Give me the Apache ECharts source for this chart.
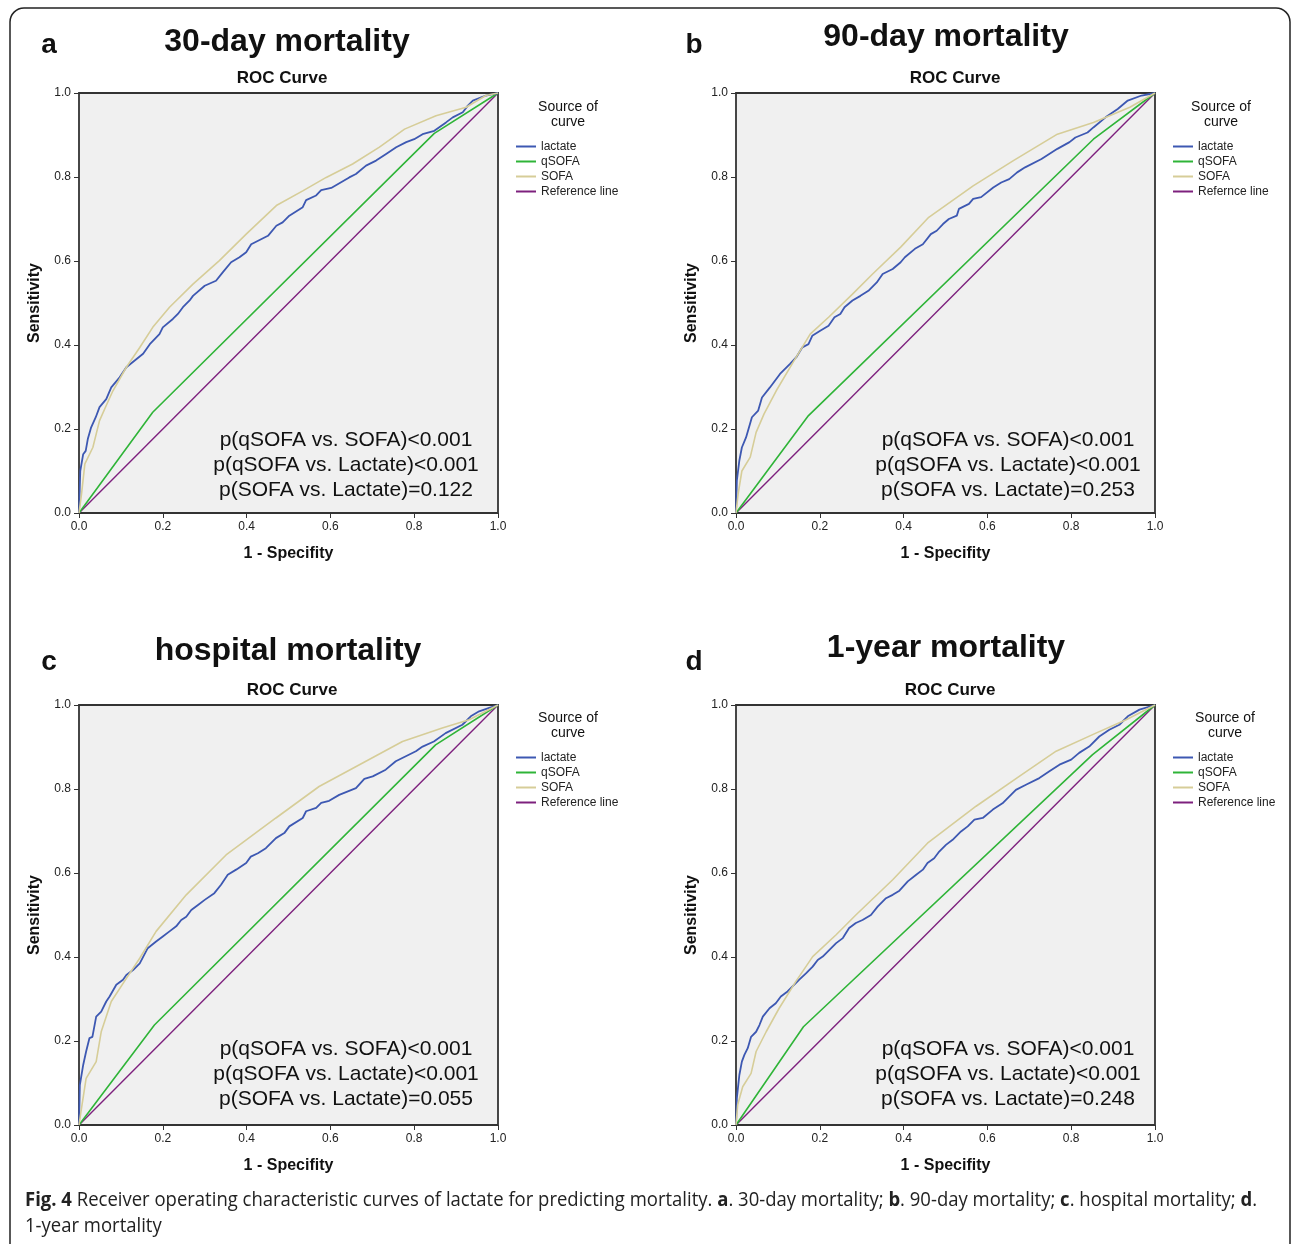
<!DOCTYPE html>
<html>
<head>
<meta charset="utf-8">
<script src="https://cdn.jsdelivr.net/npm/echarts@6/dist/echarts.min.js"></script>
<style>
html,body{margin:0;padding:0;background:#fff;}
#chart{width:1292px;height:1244px;}
</style>
</head>
<body>
<div id="chart"></div>
<script>
// ---------- data ----------
const panelTitles = ['30-day mortality', '90-day mortality', 'hospital mortality', '1-year mortality'];
const panelLetters = ['a', 'b', 'c', 'd'];
const tickValues = [0, 0.2, 0.4, 0.6, 0.8, 1.0];
const seriesNamesA = ['lactate', 'qSOFA', 'SOFA', 'Reference line'];
const seriesNamesB = ['lactate', 'qSOFA', 'SOFA', 'Refernce line'];
const pvalueTexts = [
  ['p(qSOFA vs. SOFA)<0.001', 'p(qSOFA vs. Lactate)<0.001', 'p(SOFA vs. Lactate)=0.122'],
  ['p(qSOFA vs. SOFA)<0.001', 'p(qSOFA vs. Lactate)<0.001', 'p(SOFA vs. Lactate)=0.253'],
  ['p(qSOFA vs. SOFA)<0.001', 'p(qSOFA vs. Lactate)<0.001', 'p(SOFA vs. Lactate)=0.055'],
  ['p(qSOFA vs. SOFA)<0.001', 'p(qSOFA vs. Lactate)<0.001', 'p(SOFA vs. Lactate)=0.248']
];

const lactate30 = [[0,0],[0.003,0.10],[0.01,0.14],[0.016,0.148],[0.021,0.176],[0.029,0.204],[0.04,0.228],[0.049,0.252],[0.065,0.271],[0.077,0.299],[0.097,0.323],[0.113,0.347],[0.133,0.363],[0.153,0.379],[0.169,0.402],[0.192,0.426],[0.2,0.442],[0.224,0.462],[0.236,0.474],[0.248,0.49],[0.264,0.506],[0.272,0.517],[0.3,0.541],[0.327,0.553],[0.343,0.573],[0.363,0.597],[0.383,0.609],[0.399,0.621],[0.411,0.64],[0.451,0.66],[0.471,0.684],[0.486,0.692],[0.502,0.708],[0.534,0.728],[0.542,0.745],[0.566,0.756],[0.578,0.769],[0.602,0.774],[0.645,0.799],[0.661,0.807],[0.685,0.827],[0.709,0.839],[0.733,0.855],[0.757,0.871],[0.781,0.883],[0.8,0.89],[0.82,0.902],[0.848,0.91],[0.876,0.93],[0.892,0.942],[0.916,0.954],[0.928,0.97],[0.94,0.982],[0.971,0.994],[1,1]];
const sofa30 = [[0,0],[0.006,0.045],[0.014,0.117],[0.033,0.156],[0.049,0.22],[0.065,0.256],[0.081,0.291],[0.113,0.347],[0.145,0.394],[0.176,0.442],[0.216,0.49],[0.272,0.545],[0.335,0.601],[0.399,0.664],[0.471,0.732],[0.534,0.767],[0.59,0.799],[0.653,0.831],[0.717,0.871],[0.777,0.914],[0.852,0.946],[0.924,0.966],[0.971,0.994],[1,1]];
const qsofa30 = [[0,0],[0.176,0.24],[0.848,0.904],[1,1]];

const lactate90 = [[0,0],[0.002,0.077],[0.008,0.125],[0.014,0.156],[0.024,0.18],[0.038,0.228],[0.053,0.244],[0.062,0.275],[0.081,0.299],[0.105,0.331],[0.129,0.355],[0.144,0.371],[0.158,0.394],[0.173,0.402],[0.182,0.422],[0.201,0.434],[0.221,0.446],[0.235,0.466],[0.249,0.474],[0.259,0.49],[0.278,0.506],[0.297,0.517],[0.316,0.529],[0.336,0.549],[0.35,0.569],[0.374,0.581],[0.393,0.597],[0.403,0.609],[0.427,0.629],[0.446,0.64],[0.465,0.664],[0.479,0.672],[0.494,0.688],[0.508,0.7],[0.527,0.708],[0.532,0.724],[0.556,0.736],[0.566,0.748],[0.585,0.752],[0.614,0.775],[0.633,0.787],[0.652,0.795],[0.671,0.811],[0.69,0.823],[0.729,0.843],[0.767,0.867],[0.796,0.883],[0.81,0.894],[0.839,0.906],[0.853,0.918],[0.882,0.942],[0.911,0.962],[0.935,0.982],[0.968,0.994],[1,1]];
const sofa90 = [[0,0],[0.005,0.045],[0.014,0.1],[0.034,0.133],[0.048,0.192],[0.067,0.236],[0.096,0.291],[0.134,0.355],[0.177,0.426],[0.221,0.466],[0.278,0.521],[0.326,0.569],[0.393,0.633],[0.46,0.704],[0.566,0.779],[0.662,0.839],[0.767,0.902],[0.853,0.93],[0.94,0.966],[1,1]];
const qsofa90 = [[0,0],[0.173,0.232],[0.853,0.89],[1,1]];

const lactateHosp = [[0,0],[0.002,0.095],[0.01,0.143],[0.017,0.175],[0.025,0.207],[0.032,0.21],[0.041,0.258],[0.053,0.27],[0.065,0.294],[0.073,0.306],[0.089,0.334],[0.105,0.346],[0.113,0.357],[0.129,0.369],[0.145,0.385],[0.164,0.421],[0.184,0.437],[0.2,0.449],[0.216,0.461],[0.232,0.473],[0.244,0.488],[0.256,0.496],[0.268,0.512],[0.284,0.524],[0.3,0.536],[0.323,0.552],[0.339,0.572],[0.355,0.596],[0.375,0.608],[0.399,0.624],[0.41,0.639],[0.427,0.647],[0.446,0.659],[0.47,0.683],[0.49,0.695],[0.502,0.711],[0.534,0.731],[0.542,0.747],[0.566,0.755],[0.578,0.767],[0.597,0.772],[0.621,0.786],[0.661,0.802],[0.681,0.824],[0.701,0.83],[0.732,0.846],[0.756,0.866],[0.78,0.878],[0.804,0.89],[0.82,0.901],[0.847,0.913],[0.875,0.933],[0.915,0.953],[0.935,0.973],[0.955,0.985],[0.979,0.993],[1,1]];
const sofaHosp = [[0,0],[0.006,0.04],[0.017,0.111],[0.041,0.151],[0.053,0.222],[0.077,0.294],[0.113,0.349],[0.145,0.397],[0.184,0.461],[0.256,0.548],[0.351,0.643],[0.47,0.731],[0.573,0.806],[0.677,0.862],[0.772,0.913],[0.867,0.945],[0.931,0.965],[1,1]];
const qsofaHosp = [[0,0],[0.18,0.238],[0.851,0.905],[1,1]];

const lactate1y = [[0,0],[0.002,0.064],[0.008,0.119],[0.014,0.151],[0.02,0.167],[0.028,0.183],[0.036,0.21],[0.048,0.222],[0.056,0.238],[0.064,0.258],[0.08,0.278],[0.095,0.29],[0.107,0.306],[0.123,0.318],[0.135,0.33],[0.151,0.346],[0.167,0.361],[0.183,0.377],[0.195,0.393],[0.207,0.401],[0.223,0.417],[0.239,0.433],[0.255,0.445],[0.27,0.469],[0.286,0.481],[0.302,0.488],[0.322,0.5],[0.338,0.52],[0.358,0.54],[0.374,0.548],[0.39,0.558],[0.41,0.58],[0.43,0.596],[0.446,0.608],[0.457,0.624],[0.473,0.635],[0.485,0.651],[0.501,0.667],[0.517,0.679],[0.537,0.699],[0.553,0.711],[0.569,0.727],[0.589,0.731],[0.613,0.751],[0.636,0.766],[0.652,0.782],[0.668,0.798],[0.692,0.81],[0.724,0.826],[0.748,0.842],[0.772,0.858],[0.8,0.87],[0.819,0.886],[0.843,0.901],[0.867,0.925],[0.891,0.941],[0.915,0.953],[0.935,0.973],[0.963,0.989],[1,1]];
const sofa1y = [[0,0],[0.004,0.048],[0.016,0.091],[0.036,0.123],[0.048,0.175],[0.072,0.222],[0.103,0.278],[0.143,0.342],[0.183,0.401],[0.239,0.453],[0.286,0.5],[0.374,0.584],[0.457,0.671],[0.573,0.759],[0.676,0.83],[0.764,0.89],[0.859,0.933],[0.931,0.965],[1,1]];
const qsofa1y = [[0,0],[0.161,0.234],[0.851,0.882],[1,1]];

const referenceLine = [[0,0],[1,1]];

// ---------- layout / style ----------
const colors = { lactate: '#3d58b2', qSOFA: '#2fb438', SOFA: '#d6cd98', ref: '#7d207d' };
const grids = [
  { left: 79, top: 93 }, { left: 736, top: 93 },
  { left: 79, top: 705 }, { left: 736, top: 705 }
];
const panelData = [
  [lactate30, qsofa30, sofa30],
  [lactate90, qsofa90, sofa90],
  [lactateHosp, qsofaHosp, sofaHosp],
  [lactate1y, qsofa1y, sofa1y]
];
const panelNames = [seriesNamesA, seriesNamesB, seriesNamesA, seriesNamesA];
const FONT = '"Liberation Sans", Arial, sans-serif';

const option = {
  animation: false,
  backgroundColor: '#ffffff',
  grid: [], xAxis: [], yAxis: [], series: [], legend: [], graphic: []
};

const axisCommon = {
  type: 'value', min: 0, max: 1, interval: 0.2,
  splitLine: { show: false },
  axisLine: { show: false },
  axisTick: { show: true, inside: false, length: 5, lineStyle: { color: '#333', width: 1 } },
  axisLabel: { fontSize: 12, color: '#222', fontFamily: FONT, margin: 8, formatter: v => v.toFixed(1) },
  nameLocation: 'middle',
  nameTextStyle: { fontSize: 16, fontWeight: 'bold', color: '#111', fontFamily: FONT }
};

const titlePos = [[287, 42], [946, 37], [288, 651], [946, 648]];
const letterPos = [[49, 45], [694, 45], [49, 662], [694, 662]];
const rocPos = [[282, 78], [955, 78], [292, 690], [950, 690]];
const pvalCenter = [[346, 440], [1008, 440], [346, 1049], [1008, 1049]];
const legendTitle = [[568, 107], [1221, 107], [568, 718], [1225, 718]];
const legendPos = [[516, 139], [1173, 139], [516, 750], [1173, 750]];

function txt(x, y, text, font, opts) {
  return Object.assign({
    type: 'text', x: x, y: y, silent: true,
    style: { text: text, font: font, fill: '#111', align: 'center', verticalAlign: 'middle' }
  }, opts || {});
}

for (let i = 0; i < 4; i++) {
  option.grid.push({
    left: grids[i].left, top: grids[i].top, width: 419, height: 420,
    show: true, backgroundColor: '#f0f0f0', borderColor: '#333', borderWidth: 1.8
  });
  option.xAxis.push(Object.assign({}, axisCommon, { gridIndex: i, name: '1 - Specifity', nameGap: 33 }));
  option.yAxis.push(Object.assign({}, axisCommon, { gridIndex: i, name: 'Sensitivity', nameGap: 36 }));
  const names = panelNames[i];
  const d = panelData[i];
  const lineColors = [colors.lactate, colors.qSOFA, colors.SOFA];
  for (let k = 0; k < 3; k++) {
    option.series.push({
      type: 'line', name: names[k], xAxisIndex: i, yAxisIndex: i, data: d[k],
      showSymbol: false, symbol: 'none', color: lineColors[k],
      lineStyle: { width: k === 0 ? 1.8 : 1.6, color: lineColors[k] }, z: 3 + (k === 1 ? 0 : 1)
    });
  }
  option.series.push({
    type: 'line', name: names[3], xAxisIndex: i, yAxisIndex: i, data: referenceLine,
    showSymbol: false, symbol: 'none', color: colors.ref,
    lineStyle: { width: 1.4, color: colors.ref }, z: 2
  });
  option.legend.push({
    orient: 'vertical', left: legendPos[i][0], top: legendPos[i][1], padding: 0,
    itemGap: 0, itemWidth: 20, itemHeight: 2, icon: 'rect',
    data: names,
    textStyle: { fontSize: 12, color: '#222', fontFamily: FONT, lineHeight: 15 }
  });
  option.graphic.push(txt(titlePos[i][0], titlePos[i][1], panelTitles[i], 'bold 32px ' + FONT));
  option.graphic.push(txt(letterPos[i][0], letterPos[i][1], panelLetters[i], 'bold 28px ' + FONT));
  option.graphic.push(txt(rocPos[i][0], rocPos[i][1], 'ROC Curve', 'bold 17px ' + FONT));
  for (let j = 0; j < 3; j++) {
    option.graphic.push(txt(pvalCenter[i][0], pvalCenter[i][1] + 25 * j, pvalueTexts[i][j], '21px ' + FONT));
  }
  option.graphic.push(txt(legendTitle[i][0], legendTitle[i][1], 'Source of', '14px ' + FONT, {}));
  option.graphic.push(txt(legendTitle[i][0], legendTitle[i][1] + 15, 'curve', '14px ' + FONT, {}));
}

// outer frame
option.graphic.push({
  type: 'rect', silent: true, z: -1,
  shape: { x: 10, y: 8, width: 1280, height: 1270, r: 14 },
  style: { fill: 'none', stroke: '#222', lineWidth: 1.5 }
});
// caption
const captionLine1 = '{b|Fig. 4} Receiver operating characteristic curves of lactate for predicting mortality. {b|a}. 30-day mortality; {b|b}. 90-day mortality; {b|c}. hospital mortality; {b|d}.';
const captionLine2 = '1-year mortality';
[captionLine1, captionLine2].forEach((t, idx) => {
  option.graphic.push({
    type: 'text', silent: true, x: 25, y: 1200 + 26 * idx, scaleX: 0.925, scaleY: 1,
    style: {
      text: t, font: '20px "Open Sans", sans-serif', fill: '#222',
      align: 'left', verticalAlign: 'middle',
      rich: { b: { fontWeight: 'bold', fontSize: 20, fontFamily: '"Open Sans", sans-serif', fill: '#222' } }
    }
  });
});

const chart = echarts.init(document.getElementById('chart'), null, { renderer: 'canvas' });
chart.setOption(option);
</script>
</body>
</html>
